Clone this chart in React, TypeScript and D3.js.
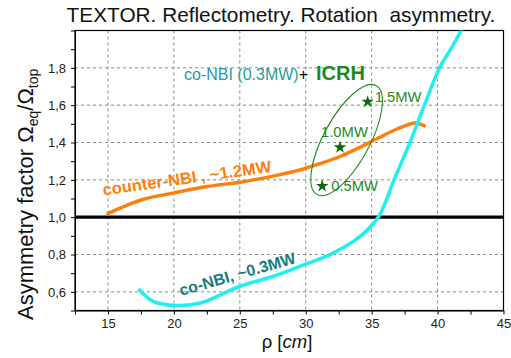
import React, { useEffect, useRef } from 'react';
import * as d3 from 'd3';

// counter-NBI (~1.2MW) profile
const counterRho = [15.0, 16.2, 17.7, 20.0, 22.5, 25.0, 27.5, 29.5, 31.0, 32.6, 34.0, 35.5, 37.0, 38.3, 39.0];
const counterAsym = [1.02, 1.057, 1.096, 1.13, 1.164, 1.187, 1.22, 1.252, 1.285, 1.325, 1.37, 1.424, 1.475, 1.505, 1.49];

// co-NBI (~0.3MW) profile
const coRho = [17.4, 18.4, 20.0, 22.0, 25.0, 27.5, 29.5, 32.0, 34.0, 35.5, 36.7, 37.9, 39.0, 40.15, 41.0, 41.8, 42.2];
const coAsym = [0.61, 0.55, 0.527, 0.54, 0.63, 0.682, 0.735, 0.805, 0.89, 1.0, 1.2, 1.4, 1.6, 1.8, 1.9, 2.0, 2.05];

// co-NBI (0.3MW) + ICRH points
const icrhLabels = ['0.5MW', '1.0MW', '1.5MW'];
const icrhRho = [31.25, 32.6, 34.7];
const icrhAsym = [1.167, 1.374, 1.618];

const xTicks = [15, 20, 25, 30, 35, 40, 45];
const yTicks = [0.6, 0.8, 1.0, 1.2, 1.4, 1.6, 1.8];

const W = 511;
const H = 358;

export default function App() {
  const ref = useRef<SVGSVGElement>(null);

  useEffect(() => {
    if (!ref.current) return;
    const svg = d3.select(ref.current);
    svg.selectAll('*').remove();

    const font = "'Liberation Sans', Arial, sans-serif";
    const left = 75, right = 503.5, top = 30.5, bottom = 310.5;
    const x = d3.scaleLinear().domain([12.5, 45]).range([left, right]);
    const y = d3.scaleLinear().domain([0.5, 2.0]).range([bottom, top]);

    const colors = {
      orange: '#ff7f0e',
      cyan: '#1ff0f0',
      teal: '#137f7f',
      tealLight: '#2a9a9a',
      green: '#1e8a1e',
      star: '#0b6b0b',
      grid: '#8a8a8a',
      text: '#222',
    };

    svg.append('defs').append('clipPath').attr('id', 'plot-clip')
      .append('rect').attr('x', left).attr('y', top).attr('width', right - left).attr('height', bottom - top);

    // title
    svg.append('text').attr('x', 281).attr('y', 22).attr('text-anchor', 'middle')
      .attr('fill', '#111').style('font-family', font).style('font-size', '20.8px')
      .attr('xml:space', 'preserve')
      .text('TEXTOR. Reflectometry. Rotation  asymmetry.');

    // grid
    const grid = svg.append('g').attr('stroke', colors.grid).attr('stroke-width', 1).attr('stroke-dasharray', '3,3');
    xTicks.filter(t => t < 45).forEach(t => {
      grid.append('line').attr('x1', x(t)).attr('x2', x(t)).attr('y1', top).attr('y2', bottom);
    });
    yTicks.forEach(t => {
      grid.append('line').attr('x1', left).attr('x2', right).attr('y1', y(t)).attr('y2', y(t));
    });

    // axes (minor ticks every half step, labels only on major ticks)
    const xAxis = svg.append('g').attr('transform', `translate(0,${bottom})`)
      .call(d3.axisBottom(x).tickValues(d3.range(12.5, 45.01, 2.5)).tickSize(4).tickSizeOuter(0)
        .tickFormat(d => (xTicks.includes(+d) ? String(d) : '')));
    xAxis.select('.domain').attr('stroke', '#000');
    xAxis.selectAll('line').attr('stroke', '#000');
    xAxis.selectAll('text').filter(function () { return (this as SVGTextElement).textContent === ''; }).remove();
    xAxis.selectAll('text').attr('fill', colors.text).attr('dy', '0.8em')
      .style('font-family', font).style('font-size', '13px');

    const yAxis = svg.append('g').attr('transform', `translate(${left},0)`)
      .call(d3.axisLeft(y).tickValues(d3.range(0.5, 2.001, 0.1)).tickSize(4).tickSizeOuter(0)
        .tickFormat(d => (yTicks.some(t => Math.abs(t - +d) < 1e-6) ? d3.format('.1f')(+d).replace('.', ',') : '')));
    yAxis.select('.domain').attr('stroke', '#000');
    yAxis.selectAll('line').attr('stroke', '#000');
    yAxis.selectAll('text').filter(function () { return (this as SVGTextElement).textContent === ''; }).remove();
    yAxis.selectAll('text').attr('fill', colors.text).attr('x', -9)
      .style('font-family', font).style('font-size', '13px');

    // frame
    svg.append('rect').attr('x', left).attr('y', top).attr('width', right - left).attr('height', bottom - top)
      .attr('fill', 'none').attr('stroke', '#000').attr('stroke-width', 1.2);

    const plot = svg.append('g').attr('clip-path', 'url(#plot-clip)');

    // symmetry line
    plot.append('line').attr('x1', left).attr('x2', right).attr('y1', y(1)).attr('y2', y(1))
      .attr('stroke', '#000').attr('stroke-width', 3.2);

    const line = d3.line<number>().curve(d3.curveCatmullRom.alpha(0.5));

    plot.append('path')
      .attr('d', line.x((_, i) => x(counterRho[i])).y(d => y(d))(counterAsym))
      .attr('fill', 'none').attr('stroke', colors.orange).attr('stroke-width', 3.5).attr('stroke-linecap', 'round');

    plot.append('path')
      .attr('d', line.x((_, i) => x(coRho[i])).y(d => y(d))(coAsym))
      .attr('fill', 'none').attr('stroke', colors.cyan).attr('stroke-width', 3.5).attr('stroke-linecap', 'round');

    // ICRH ellipse
    const cx = x(33.1), cy = y(1.413);
    plot.append('ellipse').attr('cx', 0).attr('cy', 0).attr('rx', 62).attr('ry', 23)
      .attr('transform', `translate(${cx},${cy}) rotate(-61.6)`)
      .attr('fill', 'none').attr('stroke', colors.green).attr('stroke-width', 1.1);

    // stars
    const star = d3.symbol().type(d3.symbolStar).size(50);
    icrhRho.forEach((r, i) => {
      plot.append('path').attr('d', star()!).attr('transform', `translate(${x(r)},${y(icrhAsym[i])})`)
        .attr('fill', colors.star);
    });

    const labelOffsets = [[9, 5], [-19, -10], [7, 0]];
    icrhLabels.forEach((lab, i) => {
      svg.append('text').attr('x', x(icrhRho[i]) + labelOffsets[i][0]).attr('y', y(icrhAsym[i]) + labelOffsets[i][1])
        .attr('fill', colors.green).style('font-family', font).style('font-size', '14.8px').text(lab);
    });

    // legend-like annotation
    const ann = svg.append('text').attr('x', 184).attr('y', 80).style('font-family', font);
    ann.append('tspan').attr('fill', colors.tealLight).style('font-size', '16px').text('co-NBI (0.3MW)');
    ann.append('tspan').attr('fill', '#000').style('font-size', '16px').text('+');
    ann.append('tspan').attr('fill', colors.green).attr('dx', 8).style('font-size', '20px').style('font-weight', 'bold').text('ICRH');

    // curve labels
    svg.append('text').attr('transform', 'translate(103.5,195.5) rotate(-8)')
      .attr('fill', colors.orange).style('font-family', font).style('font-size', '16.5px').style('font-weight', 'bold')
      .text('counter-NBI , ~1.2MW');
    svg.append('text').attr('transform', 'translate(181,296) rotate(-16)')
      .attr('fill', colors.teal).style('font-family', font).style('font-size', '16px').style('font-weight', 'bold')
      .text('co-NBI, ~0.3MW');

    // axis titles
    const xl = svg.append('text').attr('x', 287).attr('y', 348).attr('text-anchor', 'middle')
      .attr('fill', '#111').style('font-family', font).style('font-size', '18.5px');
    xl.append('tspan').text('ρ [');
    xl.append('tspan').style('font-style', 'italic').text('cm');
    xl.append('tspan').text(']');

    const yl = svg.append('text').attr('transform', 'translate(33,320) rotate(-90)')
      .attr('fill', '#111').style('font-family', font).style('font-size', '22px');
    yl.append('tspan').text('Asymmetry factor Ω');
    yl.append('tspan').attr('dy', 5).style('font-size', '14px').text('eq');
    yl.append('tspan').attr('dy', -5).text('/Ω');
    yl.append('tspan').attr('dy', 5).style('font-size', '14px').text('top');
  }, []);

  return (
    <svg ref={ref} width={W} height={H} viewBox={`0 0 ${W} ${H}`}
      style={{ position: 'absolute', left: 0, top: 0, background: '#fff' }} />
  );
}
